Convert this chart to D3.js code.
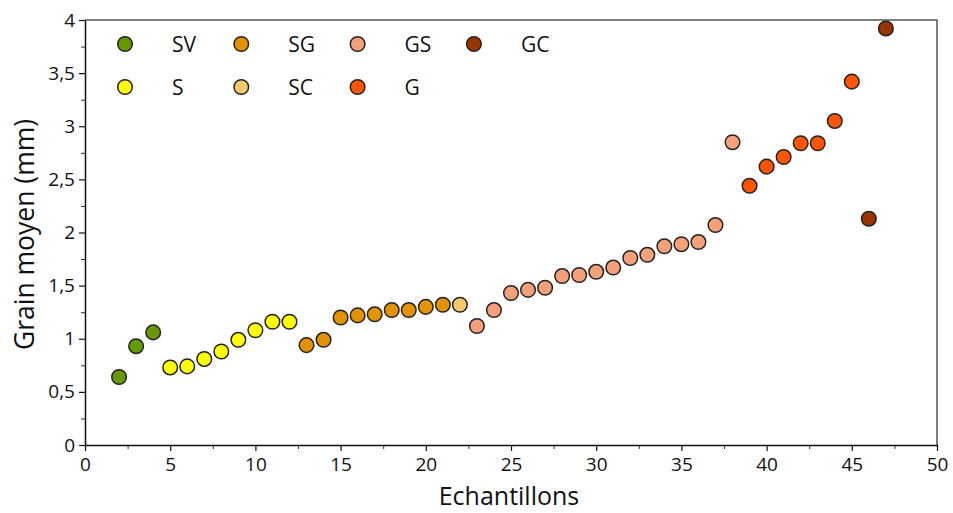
<!DOCTYPE html>
<html>
<head>
<meta charset="utf-8">
<script src="https://cdn.jsdelivr.net/npm/d3@7"></script>
<style>
  body { margin: 0; background: #fff; }
  svg text { font-family: "Open Sans", Lato, sans-serif; fill: #111; }
</style>
</head>
<body>
<div id="chart"></div>
<script>
// Echantillons (n°) et grain moyen (mm), groupés par faciès
var samples = [2, 3, 4, 5, 6, 7, 8, 9, 10, 11, 12, 13, 14, 15, 16, 17, 18, 19, 20, 21, 22,
  23, 24, 25, 26, 27, 28, 29, 30, 31, 32, 33, 34, 35, 36, 37, 38, 39, 40, 41, 42, 43, 44, 45, 46, 47];
var grain = [0.64, 0.93, 1.06, 0.73, 0.74, 0.81, 0.88, 0.99, 1.08, 1.16, 1.16, 0.94, 0.99, 1.20, 1.22,
  1.23, 1.27, 1.27, 1.30, 1.32, 1.32, 1.12, 1.27, 1.43, 1.46, 1.48, 1.59, 1.60, 1.63, 1.67, 1.76, 1.79,
  1.87, 1.89, 1.91, 2.07, 2.85, 2.44, 2.62, 2.71, 2.84, 2.84, 3.05, 3.42, 2.13, 3.92];
var facies = ['SV', 'SV', 'SV', 'S', 'S', 'S', 'S', 'S', 'S', 'S', 'S', 'SG', 'SG', 'SG', 'SG',
  'SG', 'SG', 'SG', 'SG', 'SG', 'SC', 'GS', 'GS', 'GS', 'GS', 'GS', 'GS', 'GS', 'GS', 'GS', 'GS', 'GS',
  'GS', 'GS', 'GS', 'GS', 'GS', 'G', 'G', 'G', 'G', 'G', 'G', 'G', 'GC', 'GC'];

// légende (ordre colonne par colonne)
var legendKeys = ['SV', 'S', 'SG', 'SC', 'GS', 'G', 'GC'];
var legendColors = ['#669900', '#ffff00', '#e39300', '#f2c96b', '#f4a07b', '#ff5500', '#9b3300'];

var xTicks = [0, 5, 10, 15, 20, 25, 30, 35, 40, 45, 50];
var yTicks = [0, 0.5, 1, 1.5, 2, 2.5, 3, 3.5, 4];

var W = 953, H = 513;
var m = { top: 20, right: 16, bottom: 68, left: 85 };
var iw = 937 - m.left, ih = 445 - m.top;

var color = d3.scaleOrdinal().domain(legendKeys).range(legendColors);
var fmt = function (v) { return String(v).replace('.', ','); };

var svg = d3.select('#chart').append('svg')
  .attr('width', W).attr('height', H);

var g = svg.append('g').attr('transform', 'translate(' + m.left + ',' + m.top + ')');

var x = d3.scaleLinear().domain([0, 50]).range([0, iw]);
var y = d3.scaleLinear().domain([0, 4]).range([ih, 0]);

// cadre haut / droite
g.append('path')
  .attr('d', 'M0,0H' + iw + 'V' + ih)
  .attr('fill', 'none').attr('stroke', '#555').attr('stroke-width', 1.5);

// graduations secondaires
g.append('g').attr('transform', 'translate(0,' + ih + ')')
  .call(d3.axisBottom(x).tickValues(d3.range(2.5, 50, 5)).tickSize(4).tickFormat(''))
  .call(function (s) { s.select('.domain').remove(); s.selectAll('line').attr('stroke', '#333'); });
g.append('g')
  .call(d3.axisLeft(y).tickValues(d3.range(0.25, 4, 0.5)).tickSize(4).tickFormat(''))
  .call(function (s) { s.select('.domain').remove(); s.selectAll('line').attr('stroke', '#333'); });

var xa = g.append('g').attr('transform', 'translate(0,' + ih + ')')
  .call(d3.axisBottom(x).tickValues(xTicks).tickSize(6).tickSizeOuter(0).tickPadding(7));
var ya = g.append('g')
  .call(d3.axisLeft(y).tickValues(yTicks).tickFormat(fmt).tickSize(6).tickSizeOuter(0).tickPadding(4));
[xa, ya].forEach(function (a) {
  a.select('.domain').attr('stroke', '#111').attr('stroke-width', 1.5);
  a.selectAll('line').attr('stroke', '#111').attr('stroke-width', 1.2);
  a.selectAll('text').style('font-size', '19px').attr('fill', '#111');
});

// titres des axes
svg.append('text')
  .attr('x', m.left + iw / 2 - 2).attr('y', 505)
  .attr('text-anchor', 'middle').style('font-size', '25px')
  .text('Echantillons');
svg.append('text')
  .attr('transform', 'translate(34,' + (m.top + ih / 2 + 2) + ') rotate(-90)')
  .attr('text-anchor', 'middle').style('font-size', '26.5px')
  .text('Grain moyen (mm)');

// points
g.selectAll('circle.pt')
  .data(samples)
  .join('circle')
  .attr('class', 'pt')
  .attr('cx', function (d) { return x(d); })
  .attr('cy', function (d, i) { return y(grain[i]); })
  .attr('r', 7.3)
  .attr('fill', function (d, i) { return color(facies[i]); })
  .attr('stroke', '#222').attr('stroke-width', 1.5);

// légende
var leg = svg.append('g');
legendKeys.forEach(function (k, i) {
  var col = Math.floor(i / 2), row = i % 2;
  var lx = 125 + col * 116.3, ly = 44 + row * 43;
  leg.append('circle')
    .attr('cx', lx).attr('cy', ly).attr('r', 7.3)
    .attr('fill', legendColors[i]).attr('stroke', '#222').attr('stroke-width', 1.5);
  leg.append('text')
    .attr('x', lx + 47).attr('y', ly).attr('dy', '0.36em')
    .style('font-size', '21px').text(k);
});
</script>
</body>
</html>
